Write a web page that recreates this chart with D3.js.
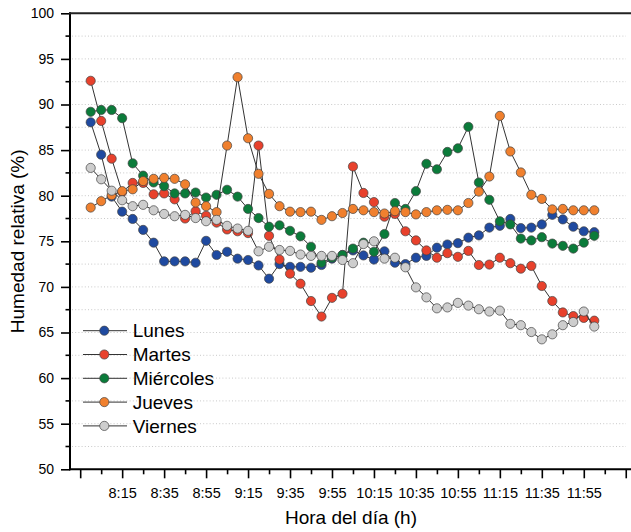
<!DOCTYPE html>
<html>
<head>
<meta charset="utf-8">
<script src="https://cdn.jsdelivr.net/npm/d3@7"></script>
<style>
  body { margin: 0; background: #fff; }
  svg { display: block; font-family: "Liberation Sans", Arial, sans-serif; }
</style>
</head>
<body>
<div id="chart"></div>
<script>
// Hora de cada medición (cada 5 minutos)
const horas = [
  "8:00", "8:05", "8:10", "8:15", "8:20", "8:25", "8:30", "8:35", "8:40", "8:45",
  "8:50", "8:55", "9:00", "9:05", "9:10", "9:15", "9:20", "9:25", "9:30", "9:35",
  "9:40", "9:45", "9:50", "9:55", "10:00", "10:05", "10:10", "10:15", "10:20", "10:25",
  "10:30", "10:35", "10:40", "10:45", "10:50", "10:55", "11:00", "11:05", "11:10", "11:15",
  "11:20", "11:25", "11:30", "11:35", "11:40", "11:45", "11:50", "11:55", "12:00"
];

const lunes = [88.05, 84.5, 79.9, 78.25, 77.45, 76.25, 74.85, 72.8, 72.8, 72.8, 72.65, 75.05, 73.5, 73.85, 73.1, 72.95, 72.35, 70.9, 72.5, 72.2, 72.2, 72.1, 72.4, 73.1, 73.5, 74.0, 73.45, 73.0, 73.9, 72.65, 72.5, 73.2, 73.4, 74.3, 74.65, 74.8, 75.4, 75.65, 76.5, 76.7, 77.45, 76.45, 76.5, 76.85, 77.9, 77.4, 76.6, 76.1, 76.0];
const martes = [92.6, 88.2, 84.06, 80.4, 81.4, 81.4, 80.15, 80.25, 79.6, 77.5, 78.3, 77.8, 77.05, 76.3, 76.1, 75.9, 85.5, 75.6, 73.0, 71.45, 70.35, 68.45, 66.75, 68.8, 69.25, 83.2, 80.3, 79.3, 77.7, 78.0, 76.1, 75.1, 74.0, 73.2, 73.7, 73.3, 73.95, 72.4, 72.45, 73.2, 72.6, 72.0, 72.3, 70.1, 68.45, 67.2, 66.8, 66.6, 66.3];
const miercoles = [89.2, 89.4, 89.4, 88.5, 83.55, 82.2, 81.45, 81.05, 80.25, 80.25, 80.35, 79.8, 80.1, 80.65, 79.9, 78.55, 77.55, 76.6, 76.75, 76.15, 75.55, 74.4, 72.65, 73.2, 73.5, 74.2, 74.85, 73.85, 75.8, 79.2, 78.55, 80.5, 83.5, 82.9, 84.8, 85.2, 87.55, 81.45, 79.55, 77.2, 76.85, 75.3, 75.1, 75.45, 74.75, 74.5, 74.2, 74.85, 75.6];
const jueves = [78.7, 79.4, 80.05, 80.5, 80.7, 81.6, 81.85, 81.95, 81.85, 81.25, 79.25, 78.85, 78.2, 85.5, 93.0, 86.3, 82.4, 80.2, 78.85, 78.25, 78.2, 78.25, 77.35, 77.75, 78.1, 78.55, 78.4, 78.2, 78.05, 78.3, 78.2, 77.95, 78.2, 78.4, 78.45, 78.4, 79.2, 80.45, 82.1, 88.75, 84.85, 82.55, 80.1, 79.65, 78.5, 78.55, 78.4, 78.4, 78.4];
const viernes = [83.05, 81.8, 80.55, 79.5, 78.85, 79.0, 78.4, 78.0, 77.75, 77.9, 77.55, 77.2, 77.35, 76.7, 76.4, 76.15, 73.9, 74.4, 74.05, 73.95, 73.55, 73.4, 73.4, 73.4, 72.95, 72.6, 74.7, 75.0, 73.1, 73.2, 72.15, 69.95, 68.85, 67.65, 67.75, 68.25, 67.95, 67.55, 67.3, 67.4, 65.95, 65.8, 65.05, 64.25, 64.8, 65.8, 66.15, 67.3, 65.65];

const seriesNames = ["Lunes", "Martes", "Miércoles", "Jueves", "Viernes"];
const seriesColors = ["#1f4aa0", "#e8412c", "#0b7b3a", "#f0802e", "#cdcdcd"];

const xTickLabels = ["8:15", "8:35", "8:55", "9:15", "9:35", "9:55", "10:15", "10:35", "10:55", "11:15", "11:35", "11:55"];
const yTickLabels = [50, 55, 60, 65, 70, 75, 80, 85, 90, 95, 100];

// "h:mm" -> minutos
const toMin = s => { const [h, m] = s.split(':').map(Number); return h * 60 + m; };

const width = 631, height = 532;
const margin = { top: 13.3, left: 70, bottom: 62.7 };

const svg = d3.select('#chart')
  .append('svg')
  .attr('width', width)
  .attr('height', height);

const x = d3.scaleLinear()
  .domain([470, 740])
  .range([69.7, 69.7 + 270 * 2.0983]);

const y = d3.scaleLinear()
  .domain([50, 100])
  .range([height - margin.bottom, margin.top]);

// Dotted grid lines every 2.5
const gridVals = d3.range(52.5, 100, 2.5);
svg.append('g')
  .selectAll('line')
  .data(gridVals)
  .enter()
  .append('line')
  .attr('x1', margin.left + 2)
  .attr('x2', 626)
  .attr('y1', d => y(d))
  .attr('y2', d => y(d))
  .attr('stroke', '#c9c9c9')
  .attr('stroke-width', 1)
  .attr('stroke-dasharray', '1,2.2');

// Y axis (major + minor ticks)
const yMinor = d3.range(52.5, 100, 5);
const yAxis = svg.append('g')
  .attr('transform', `translate(${margin.left},0)`)
  .call(d3.axisLeft(y).tickValues(yTickLabels).tickSize(9).tickPadding(7).tickFormat(d3.format('d')))
  .attr('font-size', '14px')
  .attr('font-family', '"Liberation Sans", Arial, sans-serif')
  .call(g => g.select('.domain').remove())
  .call(g => g.selectAll('.tick line').attr('stroke', '#000').attr('stroke-width', 1.6))
  .call(g => g.selectAll('.tick text').attr('fill', '#000'));

yAxis.selectAll('.minor')
  .data(yMinor)
  .enter()
  .append('line')
  .attr('x1', -4.5)
  .attr('x2', 0)
  .attr('y1', d => y(d))
  .attr('y2', d => y(d))
  .attr('stroke', '#000')
  .attr('stroke-width', 1.6);

// X axis: ticks every 10 min, labels every 20 min
const xTicks = d3.range(475, 736, 10);
const labelled = new Set(xTickLabels.map(toMin));
const xAxisG = svg.append('g')
  .attr('transform', `translate(0,${y(50)})`)
  .call(d3.axisBottom(x)
    .tickValues(xTicks)
    .tickSize(0)
    .tickPadding(18)
    .tickFormat(d => labelled.has(d) ? `${Math.floor(d / 60)}:${String(d % 60).padStart(2, '0')}` : ''))
  .attr('font-size', '14.5px')
  .attr('font-family', '"Liberation Sans", Arial, sans-serif')
  .call(g => g.select('.domain').remove())
  .call(g => g.selectAll('.tick text').attr('fill', '#000'));

xAxisG.selectAll('.tick')
  .append('line')
  .attr('y1', 0)
  .attr('y2', d => (d - 475) % 20 === 0 ? 9 : 5)
  .attr('stroke', '#000')
  .attr('stroke-width', 1.6);

// Frame: left, bottom and top lines
svg.append('line')
  .attr('x1', margin.left).attr('x2', margin.left)
  .attr('y1', y(100) - 1).attr('y2', y(50) + 1)
  .attr('stroke', '#000').attr('stroke-width', 2);
svg.append('line')
  .attr('x1', margin.left - 1).attr('x2', width)
  .attr('y1', y(50)).attr('y2', y(50))
  .attr('stroke', '#000').attr('stroke-width', 2);
svg.append('line')
  .attr('x1', margin.left - 1).attr('x2', width)
  .attr('y1', y(100)).attr('y2', y(100))
  .attr('stroke', '#222').attr('stroke-width', 2);

// Series
const allSeries = [lunes, martes, miercoles, jueves, viernes];
const line = d3.line()
  .x((d, i) => x(toMin(horas[i])))
  .y(d => y(d));

allSeries.forEach((vals, k) => {
  const g = svg.append('g').attr('class', 'serie');
  g.append('path')
    .datum(vals)
    .attr('fill', 'none')
    .attr('stroke', '#333')
    .attr('stroke-width', 1)
    .attr('d', line);
  g.selectAll('circle')
    .data(vals)
    .enter()
    .append('circle')
    .attr('cx', (d, i) => x(toMin(horas[i])))
    .attr('cy', d => y(d))
    .attr('r', 4.6)
    .attr('fill', seriesColors[k])
    .attr('stroke', '#444')
    .attr('stroke-width', 0.7);
});

// Legend
const legend = svg.append('g').attr('transform', 'translate(83,330.7)');
seriesNames.forEach((name, k) => {
  const row = legend.append('g').attr('transform', `translate(0,${k * 23.8})`);
  row.append('line')
    .attr('x1', 0).attr('x2', 44)
    .attr('stroke', '#333').attr('stroke-width', 1);
  row.append('circle')
    .attr('cx', 21.3).attr('r', 4.6)
    .attr('fill', seriesColors[k])
    .attr('stroke', '#444').attr('stroke-width', 0.7);
  row.append('text')
    .attr('x', 49.7)
    .attr('dy', '0.35em')
    .attr('font-size', '19px')
    .attr('fill', '#000')
    .text(name);
});

// Axis titles
svg.append('text')
  .attr('text-anchor', 'middle')
  .attr('x', 351)
  .attr('y', 524)
  .attr('font-size', '19px')
  .attr('fill', '#000')
  .text('Hora del día (h)');

svg.append('text')
  .attr('text-anchor', 'middle')
  .attr('transform', `translate(24,${y(75)}) rotate(-90)`)
  .attr('font-size', '19px')
  .attr('fill', '#000')
  .text('Humedad relativa (%)');
</script>
</body>
</html>
